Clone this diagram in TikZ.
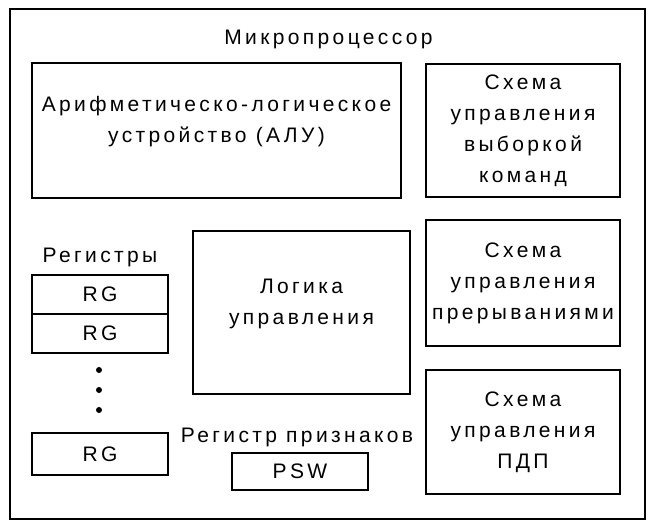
\documentclass[tikz,border=0pt]{standalone}
\usepackage{fontspec}
\setmainfont{Liberation Sans}
\newfontfamily\diagfont[LetterSpace=16]{Liberation Sans}

\begin{document}
\begin{tikzpicture}[x=1pt,y=-1pt,
                blk/.style={draw,line width=2pt,inner sep=0pt,align=center,font=\diagfont\fontsize{21}{31}\selectfont},
                txt/.style={inner sep=0pt,align=center,font=\diagfont\fontsize{21}{31}\selectfont}]
                \useasboundingbox (0,0) rectangle (655,521);
                \node[blk,minimum width=635,minimum height=510] (cpu) at (327.5,264) {};
                \node[txt,anchor=base] (cputxt) at (328.5,45) {Микропроцессор};
                % АЛУ и логика управления
                \node[blk,minimum width=369,minimum height=135] (alu) at (216.5,130.5) {};
                \node[txt] (alutxt) at (216.5,122) {Арифметическо-логическое\\устройство (АЛУ)};
                \node[blk,minimum width=217,minimum height=163] (logic) at (301.5,312.5) {};
                \node[txt] (logictxt) at (301.5,304) {Логика\\управления};
                % схемы управления
                \node[blk,minimum width=194,minimum height=133] (fetch) at (523,130.5) {Схема\\управления\\выборкой\\команд};
                \node[blk,minimum width=194,minimum height=126] (intr) at (523,283) {Схема\\управления\\прерываниями};
                \node[blk,minimum width=194,minimum height=124] (dma) at (523,432) {Схема\\управления\\ПДП};
                % регистры
                \node[txt] (regtxt) at (100,257) {Регистры};
                \node[blk,minimum width=136,minimum height=39] (rg1) at (100,294.5) {RG};
                \node[blk,minimum width=136,minimum height=39] (rg2) at (100,333.5) {RG};
                \node[blk,minimum width=136,minimum height=42] (rgn) at (100,454) {RG};
                \foreach \y in {370,390,410}
                    \fill (99,\y) circle (3);
                \node[txt] (pswtxt) at (297,437) {Регистр признаков};
                \node[blk,minimum width=136,minimum height=37] (psw) at (300,471.5) {PSW};
            \end{tikzpicture}
\end{document}
